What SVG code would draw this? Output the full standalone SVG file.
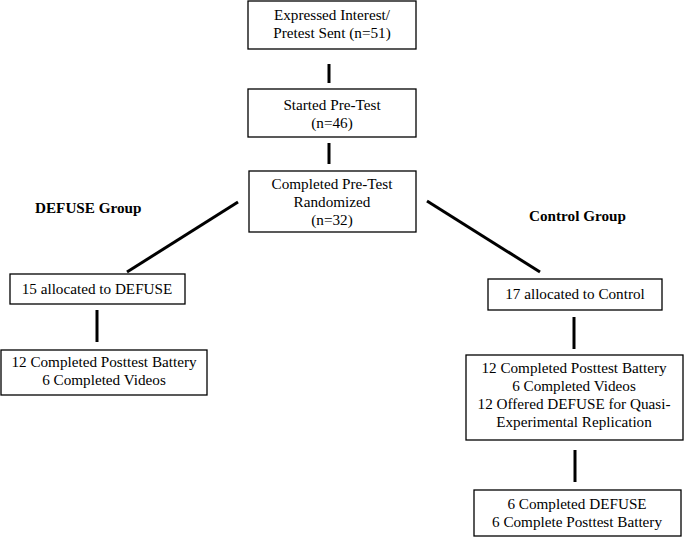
<svg xmlns="http://www.w3.org/2000/svg" width="685" height="537" viewBox="0 0 685 537">
<style>
.box{fill:#fff;stroke:#000;stroke-width:1.3}
text{font-family:'Liberation Serif','DejaVu Serif',serif;font-size:15.2px;fill:#000}
.t{text-anchor:middle}
.b{font-weight:bold}
.c{stroke:#000;stroke-width:3;fill:none}
</style>
<rect width="685" height="537" fill="#fff"/>
<g id="connectors">
<line class="c" x1="329" y1="64" x2="329" y2="83"/>
<line class="c" x1="329" y1="143" x2="329" y2="164"/>
<line class="c" x1="238" y1="202" x2="127" y2="272"/>
<line class="c" x1="427" y1="201" x2="540" y2="272"/>
<line class="c" x1="97" y1="310" x2="97" y2="342"/>
<line class="c" x1="574" y1="317" x2="574" y2="349"/>
<line class="c" x1="575" y1="450" x2="575" y2="482"/>
</g>
<g id="n1"><rect class="box" x="248" y="1" width="168" height="48"/>
<text class="t" x="332" y="20">Expressed Interest/</text><text class="t" x="332" y="38">Pretest Sent (n=51)</text></g>
<g id="n2"><rect class="box" x="248" y="89" width="168" height="48"/>
<text class="t" x="332" y="110">Started Pre-Test</text><text class="t" x="332" y="128">(n=46)</text></g>
<g id="n3"><rect class="box" x="249" y="171" width="167" height="61"/>
<text class="t" x="332" y="189">Completed Pre-Test</text><text class="t" x="332" y="207">Randomized</text><text class="t" x="332" y="225">(n=32)</text></g>
<g id="lblDefuse"><text class="b" x="35" y="213">DEFUSE Group</text></g>
<g id="lblControl"><text class="b" x="529" y="221">Control Group</text></g>
<g id="n4"><rect class="box" x="10" y="274" width="175" height="30"/>
<text class="t" x="97" y="294">15 allocated to DEFUSE</text></g>
<g id="n5"><rect class="box" x="1" y="350" width="206" height="45"/>
<text class="t" x="104" y="367">12 Completed Posttest Battery</text><text class="t" x="104" y="385">6 Completed Videos</text></g>
<g id="n6"><rect class="box" x="488" y="279" width="174" height="31"/>
<text class="t" x="575" y="299">17 allocated to Control</text></g>
<g id="n7"><rect class="box" x="466" y="355" width="217" height="85"/>
<text class="t" x="574" y="373">12 Completed Posttest Battery</text><text class="t" x="574" y="391">6 Completed Videos</text><text class="t" x="574" y="409">12 Offered DEFUSE for Quasi-</text><text class="t" x="574" y="427">Experimental Replication</text></g>
<g id="n8"><rect class="box" x="474" y="490" width="207" height="46"/>
<text class="t" x="577" y="509">6 Completed DEFUSE</text><text class="t" x="577" y="527">6 Complete Posttest Battery</text></g>
</svg>
